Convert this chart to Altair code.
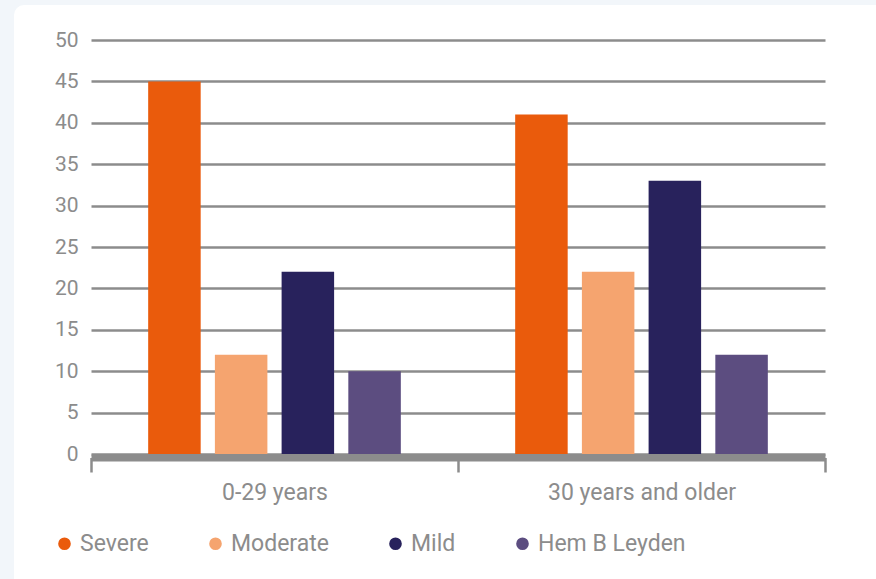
import altair as alt
import pandas as pd

groups = ["0-29 years", "30 years and older"]
series = ["Severe", "Moderate", "Mild", "Hem B Leyden"]
colors = ["#ea5b0c", "#f5a46f", "#28225c", "#5c4d80"]
values = {
    "Severe": [45, 41],
    "Moderate": [12, 22],
    "Mild": [22, 33],
    "Hem B Leyden": [10, 12],
}

rows = []
for s in series:
    for g, v in zip(groups, values[s]):
        rows.append({"group": g, "series": s, "value": v})
df = pd.DataFrame(rows)

W, H = 734, 414
GRAY = "#8c8c8c"
FONT = "Roboto"
OUTER = "#f2f6fa"
SW = 28

# decorative frame: thick stroke around the white panel (left/top margins)
frame = alt.Chart(alt.Data(values=[{}])).mark_rect(
    fill=None, stroke=OUTER, strokeWidth=SW, cornerRadius=10 + SW / 2
).encode(
    x=alt.value(14 - 91 - SW / 2), y=alt.value(5 - 40 - SW / 2),
    x2=alt.value(W + 200), y2=alt.value(H + 300)
)

bars = alt.Chart(df).mark_bar().encode(
    x=alt.X("group:N", sort=groups, title=None,
            scale=alt.Scale(paddingInner=0, paddingOuter=0),
            axis=alt.Axis(labelAngle=0, labelFont=FONT, labelFontSize=23,
                          labelColor=GRAY, domainColor=GRAY, domainWidth=7,
                          offset=3.5, tickColor=GRAY, tickWidth=2.5, tickSize=14.5,
                          tickBand="extent", labelPadding=9, domainCap="butt",
                          labelLimit=500)),
    xOffset=alt.XOffset("series:N", sort=series,
                        scale=alt.Scale(paddingInner=0.213, paddingOuter=0.857)),
    y=alt.Y("value:Q", title=None,
            scale=alt.Scale(domain=[0, 50], nice=False),
            axis=alt.Axis(values=list(range(0, 55, 5)), labelFont=FONT, labelFontSize=21,
                          labelColor=GRAY, domain=False, ticks=False, labelPadding=13,
                          gridColor=GRAY, gridWidth=2.5)),
    color=alt.Color("series:N", sort=series, title=None,
                    scale=alt.Scale(domain=series, range=colors),
                    legend=alt.Legend(orient="none", direction="horizontal", columns=4,
                                      legendX=-38, legendY=492, symbolType="circle",
                                      symbolSize=160, symbolStrokeWidth=0,
                                      labelFont=FONT, labelFontSize=23, labelColor=GRAY,
                                      labelOffset=4, columnPadding=55, padding=0,
                                      labelLimit=300)),
)

chart = alt.layer(bars, frame).properties(
    width=W, height=H,
    padding={"left": 91, "top": 40, "right": 51, "bottom": 125},
    autosize=alt.AutoSizeParams(type="none"),
    background="white",
).configure_view(stroke=None)

chart.save("out.html", embed_options={"renderer": "svg", "actions": False})
